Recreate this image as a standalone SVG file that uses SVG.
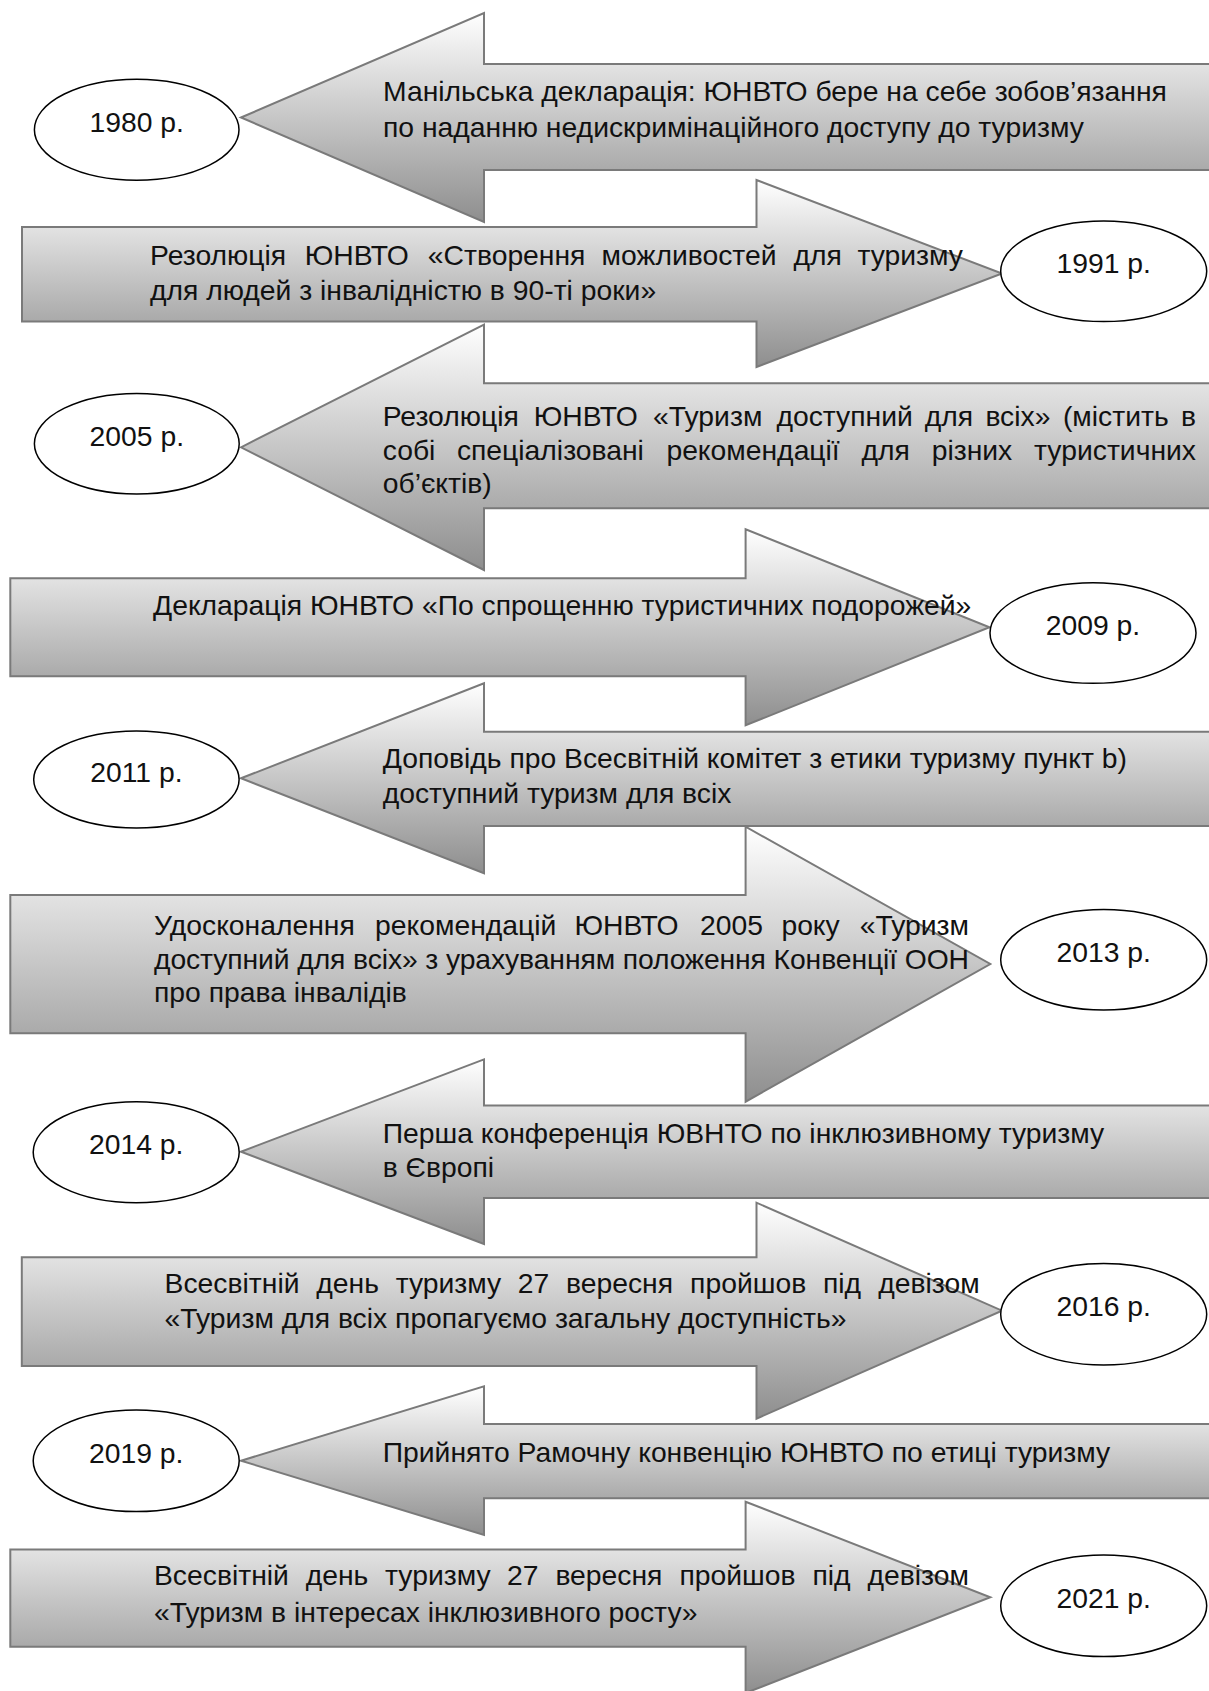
<svg xmlns="http://www.w3.org/2000/svg" width="1209" height="1691" viewBox="0 0 1209 1691">
<defs>
<linearGradient id="grad" x1="0" y1="0" x2="0" y2="1">
<stop offset="0" stop-color="#ffffff"/>
<stop offset="1" stop-color="#8e8e8e"/>
</linearGradient>
<style>
.arrow{fill:url(#grad);stroke:#7a7a7a;stroke-width:2;stroke-linejoin:miter}
.year{fill:#ffffff;stroke:#000000;stroke-width:1.5}
text{font-family:"Liberation Sans",Arial,sans-serif;font-size:28.3px;fill:#111111}
.yt{text-anchor:middle}
.e{text-anchor:end}
</style>
</defs>
<rect width="1209" height="1691" fill="#ffffff"/>
<g id="connectors">
</g>
<g id="row1980">
<polygon class="arrow" points="241,117.5 484,13 484,64 1215,64 1215,170 484,170 484,222"/>
<text x="383" y="101">Манільська декларація: ЮНВТО бере на себе зобов’язання</text>
<text x="383" y="136.5">по наданню недискримінаційного доступу до туризму</text>
</g>
<g id="y1980"><ellipse class="year" cx="136.7" cy="129.7" rx="102.3" ry="50.5"/><text class="yt" x="136.7" y="131.7">1980 р.</text></g>
<g id="row1991">
<polygon class="arrow" points="22,227 756.5,227 756.5,180 1002,273.5 756.5,367 756.5,321.5 22,321.5"/>
<text y="265"><tspan x="150">Резолюція</tspan><tspan x="304.7">ЮНВТО</tspan><tspan x="427.8">«Створення</tspan><tspan x="601.6">можливостей</tspan><tspan x="793.5">для</tspan><tspan x="963" class="e">туризму</tspan></text>
<text x="150" y="299.5">для людей з інвалідністю в 90-ті роки»</text>
</g>
<g id="y1991"><ellipse class="year" cx="1103.7" cy="271.3" rx="103" ry="50.3"/><text class="yt" x="1103.7" y="273.3">1991 р.</text></g>
<g id="row2005">
<polygon class="arrow" points="241,447.3 484,324.6 484,383.3 1215,383.3 1215,508.3 484,508.3 484,570"/>
<text y="426"><tspan x="382.7">Резолюція</tspan><tspan x="533.7">ЮНВТО</tspan><tspan x="653.1">«Туризм</tspan><tspan x="776.4">доступний</tspan><tspan x="924.8">для</tspan><tspan x="985.4">всіх»</tspan><tspan x="1062.9">(містить</tspan><tspan x="1196" class="e">в</tspan></text>
<text y="459.5"><tspan x="382.7">собі</tspan><tspan x="456.9">спеціалізовані</tspan><tspan x="666.4">рекомендації</tspan><tspan x="861.4">для</tspan><tspan x="931.7">різних</tspan><tspan x="1196" class="e">туристичних</tspan></text>
<text x="382.7" y="493">об’єктів)</text>
</g>
<g id="y2005"><ellipse class="year" cx="136.8" cy="443.7" rx="102.4" ry="50.3"/><text class="yt" x="136.8" y="445.7">2005 р.</text></g>
<g id="row2009">
<polygon class="arrow" points="10.3,578.3 745.6,578.3 745.6,529.3 989.5,627.3 745.6,725.3 745.6,676.3 10.3,676.3"/>
<text x="153" y="615">Декларація ЮНВТО «По спрощенню туристичних подорожей»</text>
</g>
<g id="y2009"><ellipse class="year" cx="1093" cy="633" rx="103" ry="50.3"/><text class="yt" x="1093" y="635">2009 р.</text></g>
<g id="row2011">
<polygon class="arrow" points="241,778.3 484,683.3 484,731.7 1215,731.7 1215,826 484,826 484,873.3"/>
<text x="382.7" y="767.5">Доповідь про Всесвітній комітет з етики туризму пункт b)</text>
<text x="382.7" y="803">доступний туризм для всіх</text>
</g>
<g id="y2011"><ellipse class="year" cx="136.4" cy="779.5" rx="102.7" ry="48.5"/><text class="yt" x="136.4" y="781.5">2011 р.</text></g>
<g id="row2013">
<polygon class="arrow" points="10.3,895 745.6,895 745.6,826.7 990.3,964 745.6,1101.7 745.6,1033.3 10.3,1033.3"/>
<text y="935"><tspan x="154">Удосконалення</tspan><tspan x="375.1">рекомендацій</tspan><tspan x="574.5">ЮНВТО</tspan><tspan x="700.1">2005</tspan><tspan x="781.4">року</tspan><tspan x="969" class="e">«Туризм</tspan></text>
<text x="154" y="969" textLength="815" lengthAdjust="spacing">доступний для всіх» з урахуванням положення Конвенції ООН</text>
<text x="154" y="1002">про права інвалідів</text>
</g>
<g id="y2013"><ellipse class="year" cx="1103.7" cy="959.7" rx="103" ry="50.3"/><text class="yt" x="1103.7" y="961.7">2013 р.</text></g>
<g id="row2014">
<polygon class="arrow" points="241,1151.7 484,1059.4 484,1105.5 1215,1105.5 1215,1198 484,1198 484,1244"/>
<text x="382.7" y="1143.3">Перша конференція ЮВНТО по інклюзивному туризму</text>
<text x="382.7" y="1176.7">в Європі</text>
</g>
<g id="y2014"><ellipse class="year" cx="136.2" cy="1152.2" rx="103" ry="50.5"/><text class="yt" x="136.2" y="1154.2">2014 р.</text></g>
<g id="row2016">
<polygon class="arrow" points="21.8,1257.3 756.5,1257.3 756.5,1202.7 1002,1310.7 756.5,1418.7 756.5,1366 21.8,1366"/>
<text y="1293.3"><tspan x="164.6">Всесвітній</tspan><tspan x="316.3">день</tspan><tspan x="395.7">туризму</tspan><tspan x="517.7">27</tspan><tspan x="566">вересня</tspan><tspan x="690.1">пройшов</tspan><tspan x="823">під</tspan><tspan x="979.6" class="e">девізом</tspan></text>
<text x="164.6" y="1328.3">«Туризм для всіх пропагуємо загальну доступність»</text>
</g>
<g id="y2016"><ellipse class="year" cx="1103.7" cy="1314.2" rx="103" ry="50.8"/><text class="yt" x="1103.7" y="1316.2">2016 р.</text></g>
<g id="row2019">
<polygon class="arrow" points="241,1460.7 484,1386.4 484,1424 1215,1424 1215,1498.3 484,1498.3 484,1535"/>
<text x="382.7" y="1462">Прийнято Рамочну конвенцію ЮНВТО по етиці туризму</text>
</g>
<g id="y2019"><ellipse class="year" cx="136.2" cy="1460.8" rx="103" ry="50.8"/><text class="yt" x="136.2" y="1462.8">2019 р.</text></g>
<g id="row2021">
<polygon class="arrow" points="10.3,1549.5 745.6,1549.5 745.6,1501.7 990.3,1597.3 745.6,1693 745.6,1646.7 10.3,1646.7"/>
<text y="1585"><tspan x="154">Всесвітній</tspan><tspan x="305.7">день</tspan><tspan x="385.1">туризму</tspan><tspan x="507.1">27</tspan><tspan x="555.4">вересня</tspan><tspan x="679.5">пройшов</tspan><tspan x="812.4">під</tspan><tspan x="968.9" class="e">девізом</tspan></text>
<text x="154" y="1621.7">«Туризм в інтересах інклюзивного росту»</text>
</g>
<g id="y2021"><ellipse class="year" cx="1103.7" cy="1605.8" rx="103" ry="50.8"/><text class="yt" x="1103.7" y="1607.8">2021 р.</text></g>
</svg>
